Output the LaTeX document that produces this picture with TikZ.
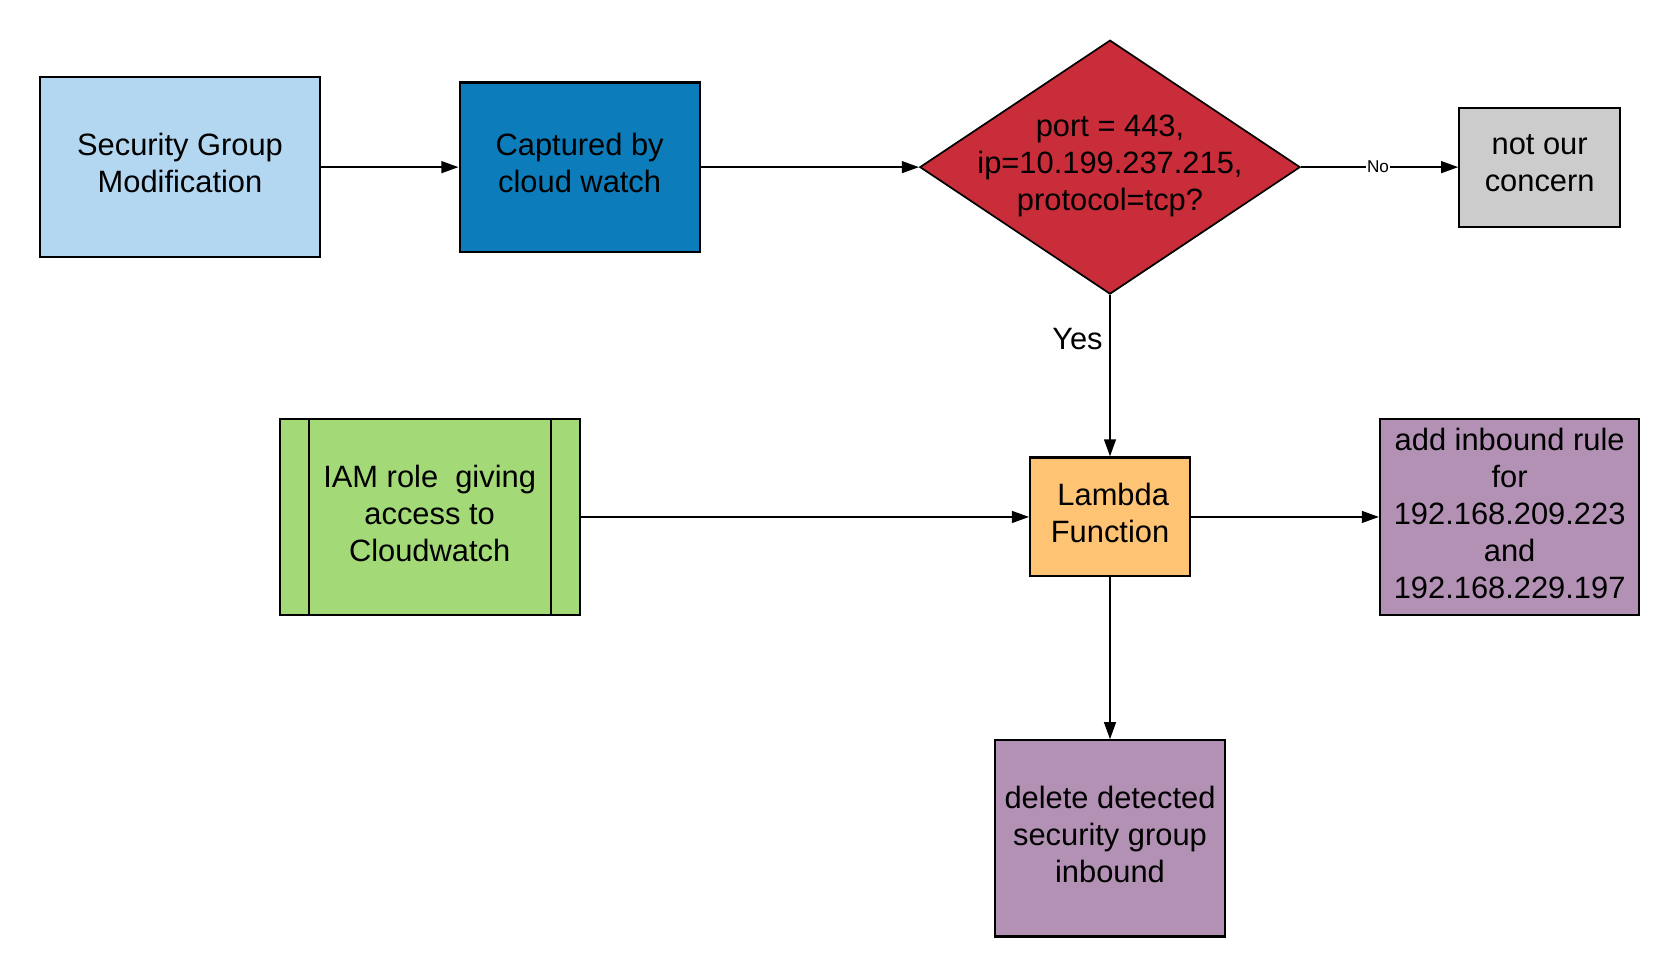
\documentclass[tikz,border=0pt]{standalone}
\usepackage{fontspec}
\setmainfont{Liberation Sans}
\usetikzlibrary{shapes.geometric,arrows.meta}
\definecolor{cLightBlue}{HTML}{B3D7F1}
\definecolor{cBlue}{HTML}{0C7CBA}
\definecolor{cRed}{HTML}{C92D39}
\definecolor{cGray}{HTML}{CCCCCC}
\definecolor{cGreen}{HTML}{A3D977}
\definecolor{cOrange}{HTML}{FFC374}
\definecolor{cPurple}{HTML}{B391B5}
\tikzset{
  boxnode/.style={draw=black, line width=1pt, inner sep=0pt},
  txt/.style={align=center, inner sep=0pt, font=\fontsize{14.4}{17.3}\selectfont},
  arr/.style={line width=0.9pt, -{Triangle[length=8pt,width=5.5pt]}},
  lbl/.style={font=\fontsize{14.4}{17}\selectfont, inner sep=1pt},
  nolbl/.style={font=\fontsize{8}{9}\selectfont, fill=white, inner sep=0.5pt}
}
\begin{document}
\begin{tikzpicture}[x=0.5pt,y=-0.5pt]
\useasboundingbox (0,0) rectangle (1568,913);
\fill[white] (0,0) rectangle (1568,913);

\node[boxnode, fill=cLightBlue, minimum width=131pt, minimum height=84pt] (sg) at (168,156) {};
\node[txt] (sgT) at ([yshift=1.75pt]sg.center) {Security Group\\Modification};
\node[boxnode, fill=cBlue, minimum width=112pt, minimum height=79pt] (cw) at (541,156) {};
\node[txt] (cwT) at ([yshift=1.75pt]cw.center) {Captured by\\cloud watch};
\node[diamond, draw=black, line width=0.8pt, fill=cRed, inner sep=0pt, minimum width=177.5pt, minimum height=118.5pt] (dec) at (1036,156) {};
\node[txt] (decT) at ([yshift=0.75pt]dec.center) {port = 443,\\ip=10.199.237.215,\\protocol=tcp?};
\node[boxnode, fill=cGray, minimum width=75pt, minimum height=55.5pt] (noc) at (1437,156) {};
\node[txt] (nocT) at ([yshift=1.75pt]noc.center) {not our\\concern};
\node[boxnode, fill=cGreen, minimum width=140pt, minimum height=91.5pt] (iam) at (401,482.5) {};
\node[txt] (iamT) at ([yshift=1.75pt]iam.center) {IAM role~ giving\\access to\\Cloudwatch};
\draw[line width=1pt] ([xshift=14pt]iam.north west) -- ([xshift=14pt]iam.south west);
\draw[line width=1pt] ([xshift=-14pt]iam.north east) -- ([xshift=-14pt]iam.south east);
\node[boxnode, fill=cOrange, minimum width=74.5pt, minimum height=55.5pt] (lam) at (1036,482.5) {};
\node[txt] (lamT) at ([yshift=1.75pt]lam.center) {\hspace{3pt}Lambda\\Function};
\node[boxnode, fill=cPurple, minimum width=121pt, minimum height=91.5pt] (add) at (1409,482.5) {};
\node[txt] (addT) at ([yshift=1.75pt]add.center) {add inbound rule\\for\\192.168.209.223\\and\\192.168.229.197};
\node[boxnode, fill=cPurple, minimum width=107pt, minimum height=91.5pt] (del) at (1036,782.5) {};
\node[txt] (delT) at ([yshift=1.75pt]del.center) {delete detected\\security group\\inbound};

\draw[arr] (sg.east) -- (cw.west);
\draw[arr] (cw.east) -- (dec.west);
\draw[arr] (dec.east) -- node[nolbl, pos=0.49] (nol) {No} (noc.west);
\draw[arr] (dec.south) -- node[lbl, pos=0.27, left=2pt] (yesl) {Yes} (lam.north);
\draw[arr] (iam.east) -- (lam.west);
\draw[arr] (lam.east) -- (add.west);
\draw[arr] (lam.south) -- (del.north);
\end{tikzpicture}
\end{document}
